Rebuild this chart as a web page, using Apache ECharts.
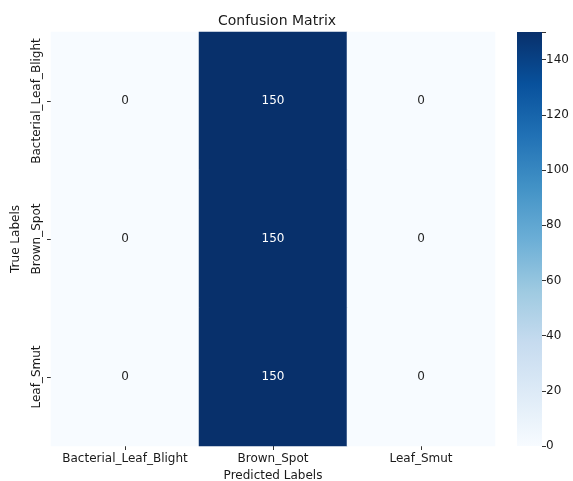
<!DOCTYPE html>
<html><head><meta charset="utf-8">
<script src="https://cdn.jsdelivr.net/npm/echarts@6/dist/echarts.min.js"></script>
<style>html,body{margin:0;padding:0;background:#fff}#c{width:573px;height:481px}</style>
</head><body><div id="c"></div>
<script>
const predictedLabels = ['Bacterial_Leaf_Blight', 'Brown_Spot', 'Leaf_Smut'];
const trueLabels = ['Bacterial_Leaf_Blight', 'Brown_Spot', 'Leaf_Smut'];
// rows = true labels, columns = predicted labels
const rowBLB = [0, 150, 0];
const rowBS = [0, 150, 0];
const rowLS = [0, 150, 0];
const colorbarTicks = [0, 20, 40, 60, 80, 100, 120, 140];
const colorMax = 150;
const blues = ['#f7fbff','#deebf7','#c6dbef','#9ecae1','#6baed6','#4292c6','#2171b5','#08519c','#08306b'];

const rows = [rowBLB, rowBS, rowLS];
const data = [];
rows.forEach((r, i) => r.forEach((v, j) => data.push([j, i, v])));

const font = 'DejaVu Sans';
const chart = echarts.init(document.getElementById('c'), null, {renderer: 'canvas'});
const stops = blues.map((c, i) => ({offset: 1 - i / (blues.length - 1), color: c}));
chart.setOption({
  backgroundColor: '#fff',
  animation: false,
  textStyle: {fontFamily: font},
  title: {text: 'Confusion Matrix', left: 272, top: 9, textAlign: 'center',
    textStyle: {fontFamily: font, fontSize: 14, fontWeight: 'normal', color: '#1a1a1a'}},
  grid: [
    {left: 51, right: 78, top: 32, bottom: 35, outerBoundsMode: 'none', containLabel: false},
    {left: 517, width: 25, top: 32, bottom: 35, outerBoundsMode: 'none', containLabel: false}
  ],
  xAxis: [
    {type: 'category', gridIndex: 0, data: predictedLabels,
     name: 'Predicted Labels', nameLocation: 'middle', nameGap: 24,
     nameTextStyle: {fontFamily: font, fontSize: 12, color: '#1a1a1a'},
     axisLine: {show: false}, axisTick: {show: true, alignWithLabel: true, length: 4, lineStyle: {color: '#333'}},
     axisLabel: {interval: 0, hideOverlap: false, fontFamily: font, fontSize: 12, color: '#1a1a1a', margin: 7}, splitLine: {show: false}},
    {type: 'category', gridIndex: 1, data: ['cb'], show: false}
  ],
  yAxis: [
    {type: 'category', gridIndex: 0, data: trueLabels, inverse: true,
     name: 'True Labels', nameLocation: 'middle', nameGap: 29, nameRotate: 90,
     nameTextStyle: {fontFamily: font, fontSize: 12, color: '#1a1a1a'},
     axisLine: {show: false}, axisTick: {show: true, alignWithLabel: true, length: 4, lineStyle: {color: '#333'}},
     axisLabel: {interval: 0, hideOverlap: false, fontFamily: font, fontSize: 12, color: '#1a1a1a', rotate: 90, margin: 8, align: 'center', verticalAlign: 'bottom'},
     splitLine: {show: false}},
    {type: 'value', gridIndex: 1, min: 0, max: colorMax, interval: 20, position: 'right',
     axisLine: {show: false}, axisTick: {show: true, length: 4, lineStyle: {color: '#333'}},
     axisLabel: {fontFamily: font, fontSize: 12, color: '#1a1a1a', margin: 4,
       formatter: v => colorbarTicks.includes(v) ? String(v) : ''},
     splitLine: {show: false}}
  ],
  visualMap: {show: false, min: 0, max: colorMax, seriesIndex: 0, inRange: {color: blues}},
  series: [
    {type: 'heatmap', xAxisIndex: 0, yAxisIndex: 0,
     data: data.map(d => ({value: d, label: {color: d[2] > colorMax / 2 ? '#ffffff' : '#262626'}})),
     label: {show: true, fontFamily: font, fontSize: 12,
       formatter: p => String(p.value[2])},
     itemStyle: {borderWidth: 0}},
    {type: 'bar', xAxisIndex: 1, yAxisIndex: 1, data: [colorMax], barWidth: '100%', silent: true,
     itemStyle: {color: new echarts.graphic.LinearGradient(0, 0, 0, 1, stops)}}
  ]
});
</script></body></html>
